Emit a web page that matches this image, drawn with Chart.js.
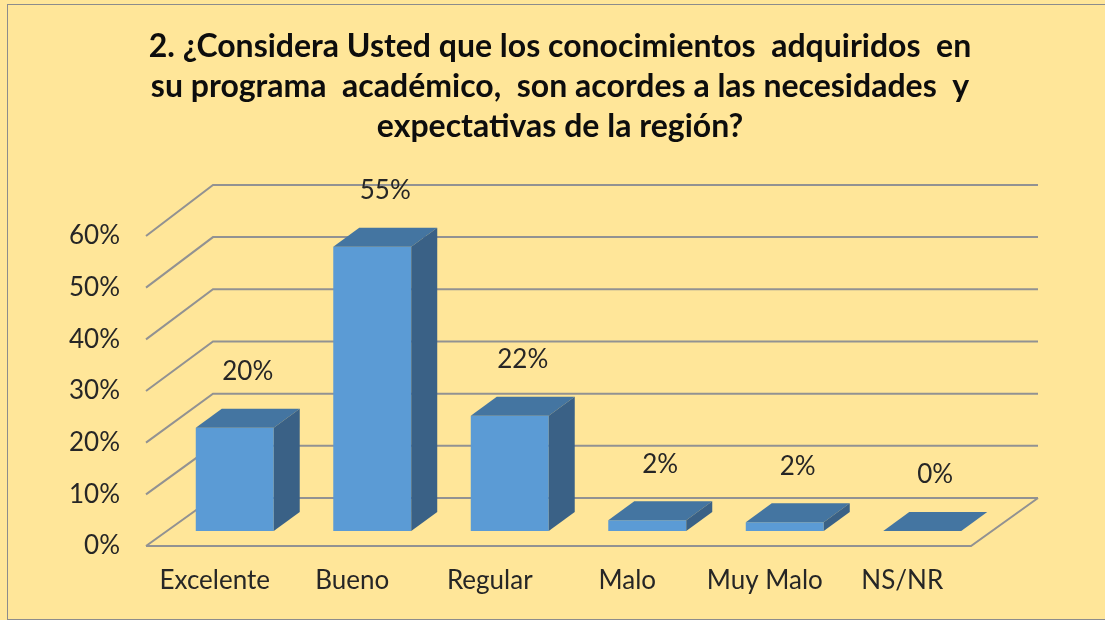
<!DOCTYPE html>
<html>
<head>
<meta charset="utf-8">
<script src="https://cdn.jsdelivr.net/npm/chart.js@4.4.0/dist/chart.umd.min.js"></script>
<style>
html, body { margin: 0; padding: 0; background: #fff; }
</style>
</head>
<body>
<canvas id="myChart" width="1105" height="620"></canvas>
<script>
var categorias = ['Excelente', 'Bueno', 'Regular', 'Malo', 'Muy Malo', 'NS/NR'];
var porcentajes = [20, 55, 22.3, 2.1, 1.7, 0];
var ticksY = [0, 10, 20, 30, 40, 50, 60];
var titulo = [
    '2. ¿Considera Usted que los conocimientos  adquiridos  en',
    'su programa  académico,  son acordes a las necesidades  y',
    'expectativas de la región?'
];

// profundidad del "3D"
var PARED_X = 67, PARED_Y = -48;
var BARRA_X = 20, BARRA_Y = -15;
var CARA_X = 26, CARA_Y = -19;
var texto = '#262626';

var efecto3d = {
    id: 'efecto3d',
    beforeDraw: function(chart) {
        var ctx = chart.ctx;
        ctx.save();
        ctx.fillStyle = '#FFE699';
        ctx.fillRect(0, 0, chart.width, chart.height);
        ctx.strokeStyle = '#8c8c8c';
        ctx.lineWidth = 1;
        ctx.strokeRect(7.5, 4.5, chart.width + 10, 615);
        ctx.fillStyle = '#0d0d0d';
        ctx.font = 'bold 32px Lato';
        ctx.textAlign = 'center';
        ctx.textBaseline = 'middle';
        titulo.forEach(function(t, i) {
            ctx.fillText(t, 560, 47 + i * 40);
        });
        ctx.restore();
    },
    beforeDatasetsDraw: function(chart) {
        var ctx = chart.ctx, y = chart.scales.y, a = chart.chartArea;
        var y0 = y.getPixelForValue(0);
        ctx.save();
        ctx.strokeStyle = '#929292';
        ctx.lineWidth = 2;
        ticksY.forEach(function(v) {
            var fy = y.getPixelForValue(v);
            var by = y0 + PARED_Y - (y0 - fy) * 1.01;
            ctx.beginPath();
            ctx.moveTo(a.left, fy);
            ctx.lineTo(a.left + PARED_X, by);
            ctx.lineTo(a.right + PARED_X, by);
            ctx.stroke();
        });
        ctx.beginPath();
        ctx.moveTo(a.left, y0);
        ctx.lineTo(a.right, y0);
        ctx.lineTo(a.right + PARED_X, y0 + PARED_Y);
        ctx.stroke();
        ctx.restore();
        // las barras van un poco hacia el fondo
        ctx.save();
        ctx.translate(BARRA_X, BARRA_Y);
    },
    afterDatasetsDraw: function(chart) {
        var ctx = chart.ctx;
        var meta = chart.getDatasetMeta(0);
        meta.data.forEach(function(bar) {
            var p = bar.getProps(['x', 'y', 'base', 'width'], true);
            var l = p.x - p.width / 2, r = p.x + p.width / 2;
            ctx.fillStyle = '#4475A1';
            ctx.beginPath();
            ctx.moveTo(l, p.y);
            ctx.lineTo(l + CARA_X, p.y + CARA_Y);
            ctx.lineTo(r + CARA_X, p.y + CARA_Y);
            ctx.lineTo(r, p.y);
            ctx.closePath();
            ctx.fill();
            ctx.fillStyle = '#3A6186';
            ctx.beginPath();
            ctx.moveTo(r, p.y);
            ctx.lineTo(r + CARA_X, p.y + CARA_Y);
            ctx.lineTo(r + CARA_X, p.base + CARA_Y);
            ctx.lineTo(r, p.base);
            ctx.closePath();
            ctx.fill();
        });
        ctx.restore();

        ctx.save();
        ctx.fillStyle = texto;
        ctx.font = '26px Lato';
        ctx.textAlign = 'center';
        ctx.textBaseline = 'middle';
        meta.data.forEach(function(bar, i) {
            var p = bar.getProps(['x', 'y'], true);
            ctx.fillText(Math.round(porcentajes[i]) + '%',
                p.x + BARRA_X + CARA_X / 2, p.y + BARRA_Y + CARA_Y - 37);
        });
        ctx.restore();
    }
};

var ctx = document.getElementById('myChart').getContext('2d');
var chart = new Chart(ctx, {
    type: 'bar',
    data: {
        labels: categorias,
        datasets: [{
            data: porcentajes,
            backgroundColor: '#5B9BD5',
            borderWidth: 0,
            barPercentage: 0.567,
            categoryPercentage: 1
        }]
    },
    options: {
        responsive: false,
        animation: false,
        layout: { padding: { left: 0, right: 134, top: 236, bottom: 0 } },
        plugins: {
            legend: { display: false },
            tooltip: { enabled: false },
            title: { display: false }
        },
        scales: {
            x: {
                grid: { display: false, drawTicks: false },
                border: { display: false },
                ticks: { color: texto, font: { family: 'Lato', size: 26 }, padding: 19 },
                afterFit: function(scale) { scale.height = 74; }
            },
            y: {
                min: 0,
                max: 60,
                grid: { display: false, drawTicks: false },
                border: { display: false },
                ticks: {
                    stepSize: 10,
                    color: texto,
                    font: { family: 'Lato', size: 26 },
                    padding: 26,
                    callback: function(v) { return v + '%'; }
                },
                afterFit: function(scale) { scale.width = 146; }
            }
        }
    },
    plugins: [efecto3d]
});
</script>
</body>
</html>
